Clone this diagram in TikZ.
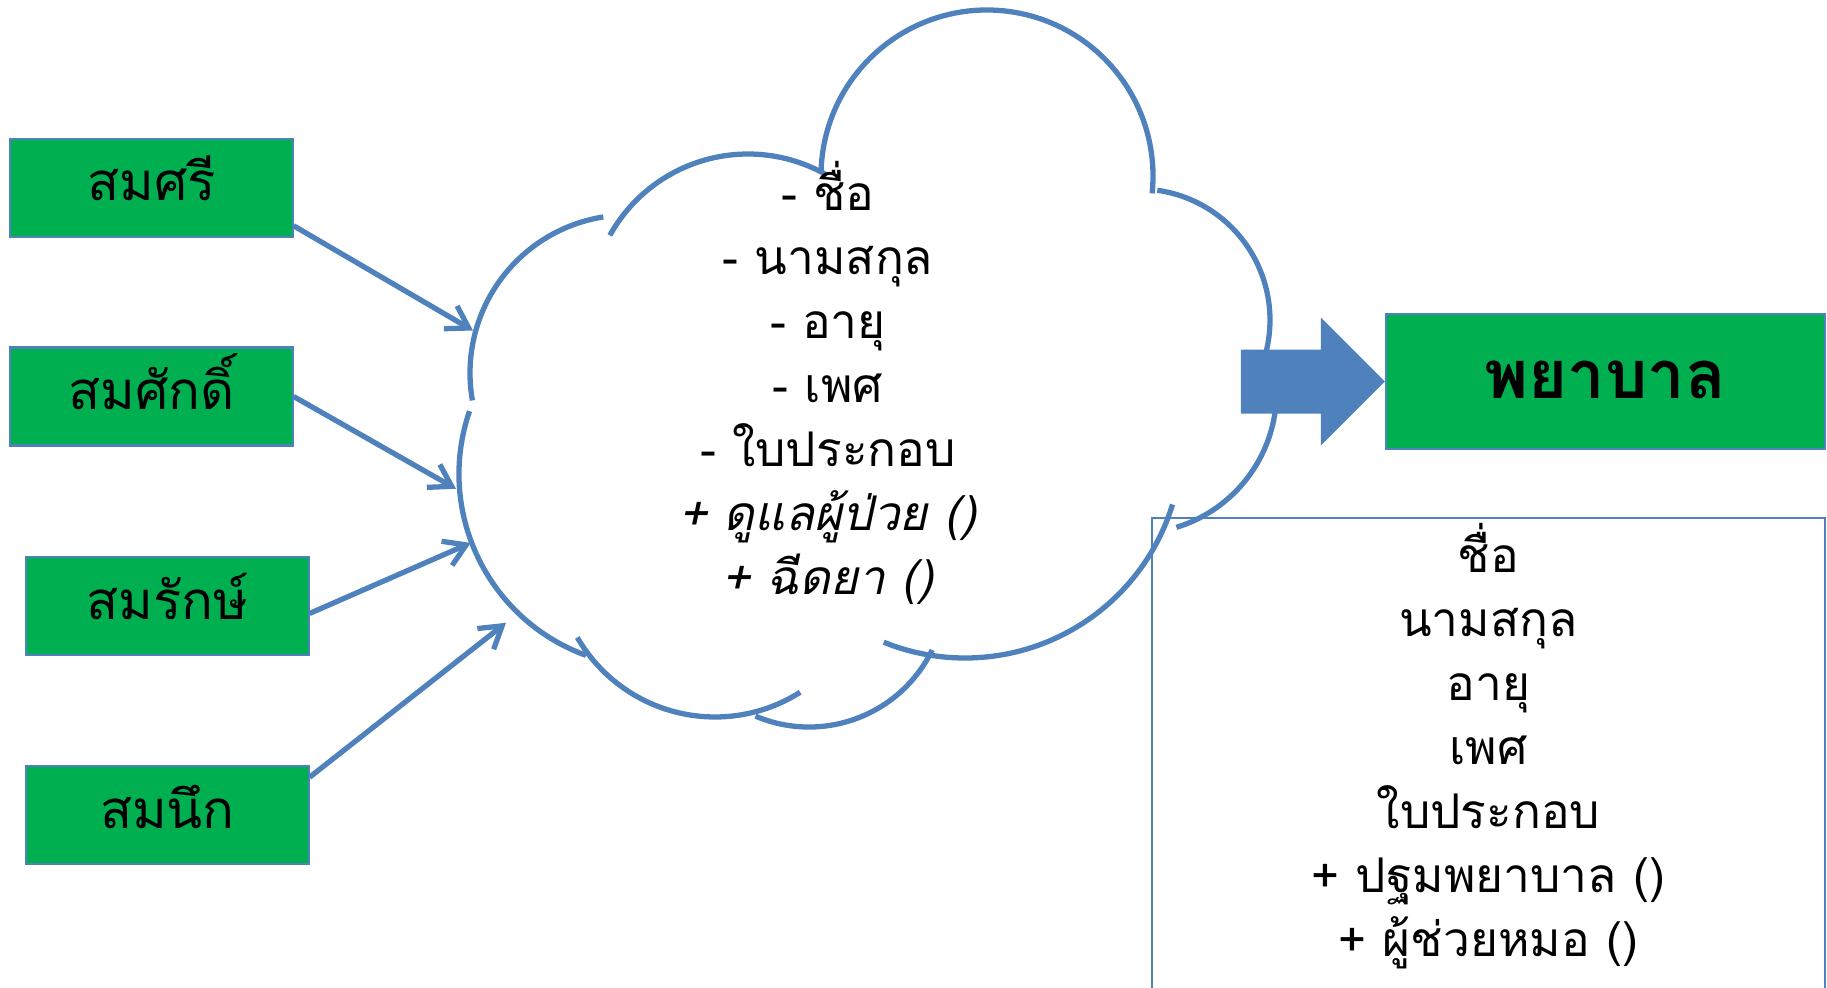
\documentclass[tikz,border=0pt]{standalone}
\usepackage{fontspec}
\newfontfamily\thaifont[Script=Thai]{Loma}
\usetikzlibrary{arrows.meta}
\definecolor{officeblue}{RGB}{79,129,189}
\definecolor{officegreen}{RGB}{0,176,80}

\begin{document}
\begin{tikzpicture}[x=0.01cm, y=-0.01cm, >={Straight Barb[length=6pt,width=7.5pt]},
        person/.style={draw=officeblue, line width=0.6pt, fill=officegreen, minimum width=2.82cm, minimum height=0.98cm, inner sep=0pt, text height=7.5pt, text depth=0pt, font=\thaifont\fontsize{15}{18}\selectfont},
        cloudline/.style={officeblue, line width=1.5pt},
        members/.style={align=center, font=\thaifont\fontsize{13.6}{18.2}\selectfont}]
        \useasboundingbox (0,0) rectangle (1827,988);

        \node[person] (somsri) at (151.5,187.7) {สมศรี};
        \node[person] (somsak) at (151.5,396.5) {สมศักดิ์};
        \node[person] (somrak) at (167.5,606) {สมรักษ์};
        \node[person] (somnuek) at (167.5,815.3) {สมนึก};

        \foreach \cx/\cy/\r/\a/\b in {748/312/158/209/300, 987/176/166/182/366, 1139/320/131/-82/15,
                1135/392/141.5/-5/73, 965/441/217/17/112, 809/590/137/26/113,
                715/558/159/57.6/150, 652/474/193/110/199, 628/373/158/170/261}
            \draw[cloudline] (\cx,\cy) ++(\a:\r) arc[start angle=\a, end angle=\b, radius=\r];

        \coordinate (in1) at (473,330.5);
        \coordinate (in2) at (456,488.8);
        \coordinate (in3) at (470.7,542.9);
        \coordinate (in4) at (506,622.8);
        \draw[cloudline, ->] (somsri.-15.6) -- (in1);
        \draw[cloudline, ->] (somsak.east) -- (in2);
        \draw[cloudline, ->] (somrak.-3.8) -- (in3);
        \draw[cloudline, ->] (somnuek.15.8) -- (in4);

        \node[members] (duties) at (828,383) {- ชื่อ\\ - นามสกุล\\ - อายุ\\ - เพศ\\ - ใบประกอบ\\
            \textit{+ ดูแลผู้ป่วย ()}\\ \textit{+ ฉีดยา ()}};

        \node[person, minimum width=4.39cm, minimum height=1.35cm, text height=9.5pt, font=\thaifont\bfseries\fontsize{19}{23}\selectfont] (nurse) at (1605.5,381.5) {พยาบาล};
        \fill[officeblue] (nurse.west) -- ++(-64,-64) -- ++(0,32) -- ++(-80,0) -- ++(0,64) -- ++(80,0) -- ++(0,32) -- cycle;

        \draw[officeblue, line width=0.5pt] (1152,1000) |- (1825,518) -- (1825,1000);
        \node[members] (nurseattr) at (1488.5,746.5) {ชื่อ\\ นามสกุล\\ อายุ\\ เพศ\\ ใบประกอบ\\ + ปฐมพยาบาล ()\\ + ผู้ช่วยหมอ ()};
    \end{tikzpicture}
\end{document}
